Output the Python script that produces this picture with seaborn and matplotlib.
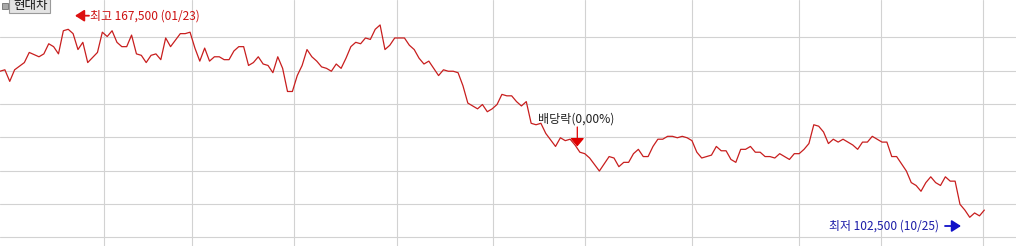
import matplotlib
matplotlib.use("Agg")
import matplotlib.pyplot as plt
import matplotlib.patches as mpatches
import seaborn as sns
import pandas as pd

# ---- data (trading-day index, closing price in KRW) ----
days = [0, 1, 2, 3, 5, 6, 8, 9, 10, 11, 12, 13, 14, 15, 16, 17, 18, 20, 21, 22,
        23, 24, 25, 26, 27, 28, 29, 30, 31, 32, 33, 34, 35, 37, 38, 39, 40, 41, 42, 43,
        44, 45, 46, 47, 48, 49, 50, 51, 52, 53, 54, 55, 56, 57, 58, 59, 60, 61, 62, 63,
        64, 65, 66, 67, 68, 69, 70, 71, 72, 73, 74, 75, 76, 77, 78, 79, 80, 81, 83, 84,
        85, 86, 87, 88, 89, 90, 91, 92, 93, 94, 95, 96, 97, 98, 99, 100, 101, 102, 103, 104,
        105, 106, 107, 108, 109, 110, 111, 112, 114, 115, 116, 117, 118, 119, 120, 121, 123, 124, 125, 126,
        127, 128, 129, 130, 131, 132, 133, 134, 135, 136, 137, 138, 139, 140, 141, 142, 143, 144, 145, 146,
        147, 148, 149, 150, 151, 152, 153, 154, 155, 156, 157, 158, 159, 160, 161, 162, 163, 164, 165, 166,
        167, 168, 169, 170, 171, 172, 173, 175, 176, 177, 178, 179, 180, 181, 182, 183, 184, 185, 186, 187,
        188, 189, 190, 191, 192, 193, 194, 195, 196, 197, 198, 199, 200, 201, 202]

prices = [153000, 153500, 149500, 153500, 156000, 159500, 158000, 159000, 162500, 161500,
          159000, 167000, 167500, 166000, 160500, 163000, 156000, 159500, 166500, 165000,
          167000, 163000, 161500, 161500, 165500, 159000, 158500, 156000, 158500, 159000,
          157000, 164500, 161500, 166000, 166000, 166500, 161000, 156500, 161000, 156500,
          158000, 158000, 157000, 157000, 160000, 161500, 161500, 155000, 156000, 158000,
          155500, 155000, 152500, 158000, 154000, 146000, 146000, 151500, 155000, 160500,
          158000, 156500, 154500, 154000, 153000, 155500, 154000, 157500, 161500, 163000,
          162500, 164500, 164000, 167500, 169000, 160500, 162000, 164500, 164500, 162000,
          160500, 157500, 155500, 156500, 154000, 151500, 153500, 153000, 153000, 152500,
          148000, 142000, 141000, 140000, 141500, 139000, 140000, 141500, 145000, 144500,
          144500, 142500, 141000, 142500, 135000, 134500, 135000, 131500, 127000, 130000,
          129000, 129500, 127500, 125000, 124500, 123000, 118500, 121000, 123500, 123000,
          120000, 121500, 121500, 124500, 126000, 123500, 123500, 127000, 129500, 129500,
          130500, 130500, 130000, 130500, 130000, 129000, 125000, 123000, 123500, 124000,
          127000, 125500, 125500, 122500, 121500, 126000, 126000, 127000, 125000, 125000,
          123500, 123500, 123000, 124500, 123500, 122500, 124500, 124500, 126000, 128000,
          134500, 134000, 132000, 128000, 129500, 128500, 129500, 127500, 126000, 128500,
          128500, 130500, 129500, 128500, 128500, 123500, 123500, 121000, 118500, 114500,
          113500, 111500, 114500, 116500, 114500, 113500, 116500, 115000, 115000, 107000,
          105000, 102500, 104000, 103000, 105000]

stock_name = "현대차"
high_label = "최고 167,500 (01/23)"
low_label = "최저 102,500 (10/25)"
dividend_label = "배당락(0,00%)"

df = pd.DataFrame({"day": days, "price": prices})

# ---- style ----
sns.set_style("white")
plt.rcParams["font.family"] = ["Noto Sans CJK KR", "DejaVu Sans"]

W, H = 1016, 246
fig = plt.figure(figsize=(W / 100, H / 100), dpi=100)
ax = fig.add_axes([0, 0, 1, 1])

PX_PER_DAY = 4.873
PRICE_TOP = 177630
PRICE_PER_PX = 345.74

ax.set_xlim(0, W / PX_PER_DAY)
ax.set_ylim(PRICE_TOP - H * PRICE_PER_PX, PRICE_TOP)

# grid
vgrid_days = [21.3, 39.4, 60.3, 81.5, 101.2, 120.0, 142.0, 164.0, 180.8, 201.7]
hgrid = [PRICE_TOP - (37.3 + 33.33 * k) * PRICE_PER_PX for k in range(7)]
ax.set_xticks(vgrid_days)
ax.set_yticks(hgrid)
ax.grid(True, color="#d2d2d2", linewidth=0.8)
ax.tick_params(left=False, bottom=False, labelleft=False, labelbottom=False)
for s in ax.spines.values():
    s.set_visible(False)
ax.set_axisbelow(True)

sns.lineplot(data=df, x="day", y="price", ax=ax, color="#c81e1e",
             linewidth=0.9, legend=False)
ax.set_xlabel("")
ax.set_ylabel("")


def fx(x):
    return x / W


def fy(y):
    return 1 - y / H


# top-left stock name button with icon
ax.add_patch(mpatches.Rectangle((fx(1.5), fy(9)), 6 / W, 6 / H, transform=ax.transAxes,
                                facecolor="#a9a9a9", edgecolor="#707070", linewidth=0.6,
                                clip_on=False))
ax.add_patch(mpatches.Rectangle((fx(9), fy(12.5)), 41 / W, 14 / H, transform=ax.transAxes,
                                facecolor="#e4e4e4", edgecolor="#9a9a9a", linewidth=0.8,
                                clip_on=False))
ax.text(fx(30.5), fy(6), stock_name, transform=ax.transAxes, ha="center", va="center",
        fontsize=9.0, color="#111111")

# high marker
ax.annotate("", xy=(fx(75), fy(15.7)), xytext=(fx(89), fy(15.7)),
            xycoords="axes fraction", textcoords="axes fraction",
            arrowprops=dict(arrowstyle="-|>,head_length=0.55,head_width=0.35",
                            color="#dd1111", lw=1.3, mutation_scale=10,
                            shrinkA=0, shrinkB=0))
ax.text(fx(89.5), fy(15.7), high_label, transform=ax.transAxes, ha="left",
        va="center", fontsize=8.6, color="#cc1111")

# dividend marker
ax.text(fx(538), fy(119), dividend_label, transform=ax.transAxes, ha="left",
        va="center", fontsize=8.7, color="#222222")
ax.annotate("", xy=(fx(577.3), fy(146.5)), xytext=(fx(577.3), fy(127)),
            xycoords="axes fraction", textcoords="axes fraction",
            arrowprops=dict(arrowstyle="-|>,head_length=0.5,head_width=0.42",
                            color="#e00000", lw=0.9, mutation_scale=10,
                            shrinkA=0, shrinkB=0))

# low marker
ax.text(fx(829), fy(226.5), low_label, transform=ax.transAxes, ha="left",
        va="center", fontsize=8.6, color="#1c1ca8")
ax.annotate("", xy=(fx(961), fy(226)), xytext=(fx(945), fy(226)),
            xycoords="axes fraction", textcoords="axes fraction",
            arrowprops=dict(arrowstyle="-|>,head_length=0.55,head_width=0.35",
                            color="#1010c8", lw=1.3, mutation_scale=10,
                            shrinkA=0, shrinkB=0))

fig.savefig("out.png", dpi=100)
